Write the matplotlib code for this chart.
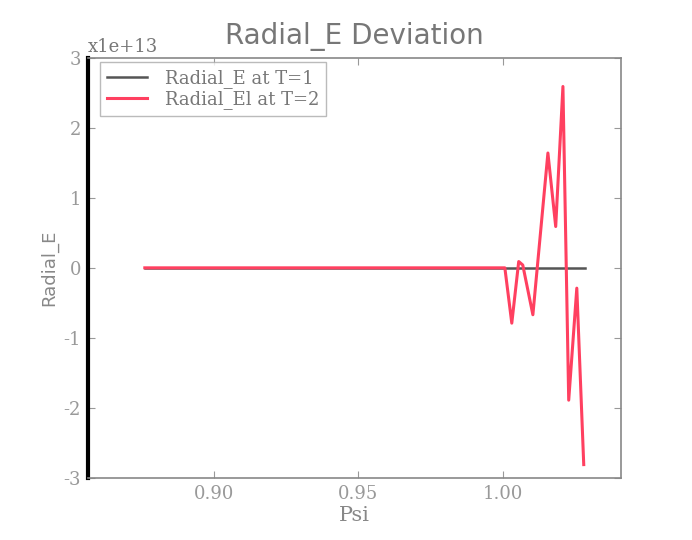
import matplotlib.pyplot as plt

# Psi grid and field values (in units of 1e13)
psi_t1 = [0.8761, 0.950, 1.000, 1.0284]
e_t1 = [0.0, 0.0, 0.0, 0.0]

psi_t2 = [0.8761, 0.950, 1.0007, 1.0031, 1.0055, 1.0069, 1.0104, 1.0156,
          1.0183, 1.0208, 1.0228, 1.0256, 1.0280]
e_t2 = [0.0, 0.0, 0.0, -0.79, 0.09, 0.04, -0.67, 1.64,
        0.59, 2.59, -1.89, -0.29, -2.81]

scale = 1e13

fig = plt.figure(figsize=(6.92, 5.40), dpi=100)
ax = fig.add_axes([0.127, 0.115, 0.770, 0.778])

ax.plot(psi_t1, [v * scale for v in e_t1], color='#555555', lw=1.8,
        label='Radial_E at T=1')
ax.plot(psi_t2, [v * scale for v in e_t2], color='#ff4060', lw=2.2,
        label='Radial_El at T=2')

ax.set_xlim(0.8564, 1.0408)
ax.set_ylim(-3 * scale, 3 * scale)
ax.set_xticks([0.90, 0.95, 1.00])
ax.set_xticklabels(['0.90', '0.95', '1.00'])
ax.set_yticks([k * scale for k in range(-3, 4)])
ax.set_yticklabels([str(k) for k in range(-3, 4)])

ax.tick_params(direction='in', top=True, right=True, length=5,
               colors='#999999', labelsize=13, pad=5)
for lab in ax.get_xticklabels() + ax.get_yticklabels():
    lab.set_family('DejaVu Serif')

for side in ['top', 'right', 'bottom']:
    ax.spines[side].set_color('#888888')
    ax.spines[side].set_linewidth(1.2)
ax.spines['left'].set_color('black')
ax.spines['left'].set_linewidth(3)

ax.text(0.0, 1.005, 'x1e+13', transform=ax.transAxes, fontsize=13,
        color='#777777', family='DejaVu Serif', va='bottom', ha='left')

ax.set_title('Radial_E Deviation', fontsize=20, color='#777777', pad=10)
ax.set_xlabel('Psi', fontsize=15, color='#888888', family='DejaVu Serif',
              labelpad=2)
ax.set_ylabel('Radial_E', fontsize=13, color='#888888')

# legend placed a bit in from the corner, wide handles
leg = ax.legend(loc='upper left', bbox_to_anchor=(0.022, 0.99),
                borderaxespad=0, fancybox=False,
                prop={'family': 'DejaVu Serif', 'size': 13},
                handlelength=2.2, handletextpad=1.0, labelspacing=0.1,
                borderpad=0.4)
leg.get_frame().set_edgecolor('#aaaaaa')
for t in leg.get_texts():
    t.set_color('#777777')

fig.savefig('out.png', dpi=100)
